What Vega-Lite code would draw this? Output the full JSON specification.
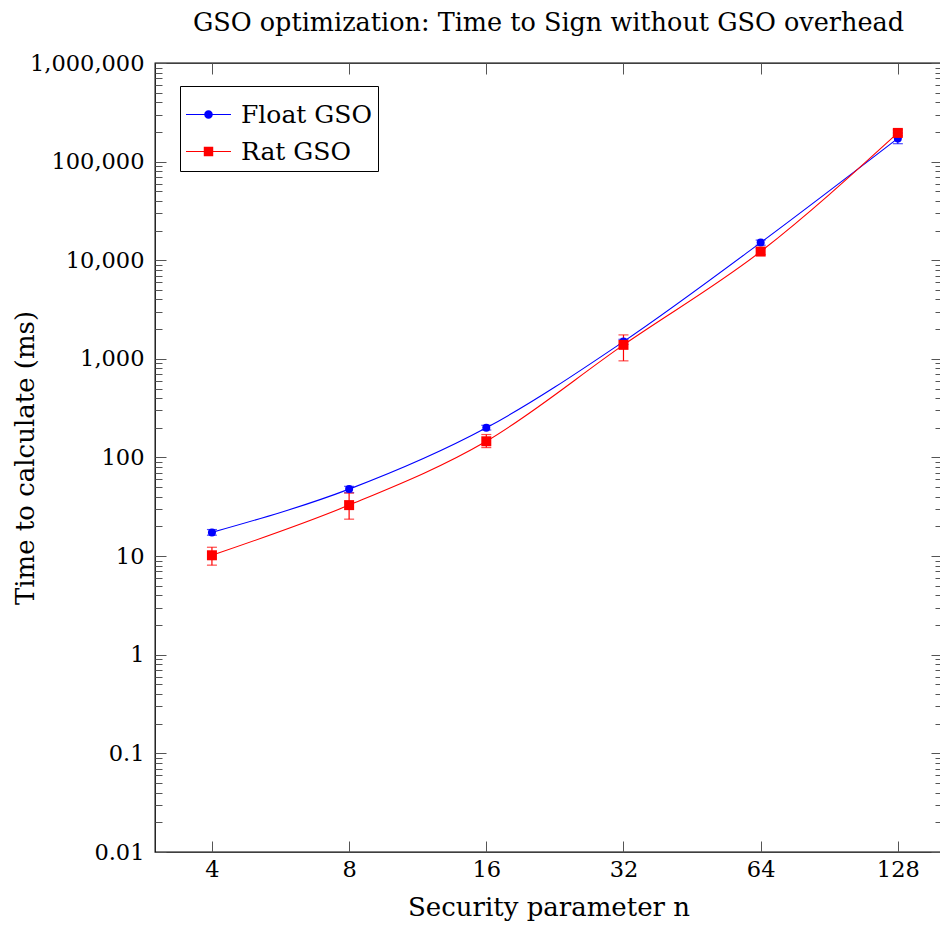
{
  "$schema": "https://vega.github.io/schema/vega-lite/v6.json",
  "width": 787,
  "height": 789,
  "autosize": {"type": "none"},
  "padding": {"left": 155, "top": 63, "right": 0, "bottom": 83},
  "title": {"text": "GSO optimization: Time to Sign without GSO overhead", "font": "DejaVu Serif", "fontSize": 25.5, "fontWeight": "normal", "color": "black", "offset": 16, "anchor": "middle"},
  "config": {"view": {"stroke": "black", "strokeWidth": 1.3}, "font": "DejaVu Serif"},
  "data": {"values": [
    {"n": 4, "series": "Float GSO", "time": 17.4, "lo": 16.3, "hi": 18.6},
    {"n": 8, "series": "Float GSO", "time": 47.8, "lo": 44, "hi": 51},
    {"n": 16, "series": "Float GSO", "time": 200, "lo": 190, "hi": 212},
    {"n": 32, "series": "Float GSO", "time": 1497, "lo": 1400, "hi": 1580},
    {"n": 64, "series": "Float GSO", "time": 15100, "lo": 14200, "hi": 16000},
    {"n": 128, "series": "Float GSO", "time": 172000, "lo": 152000, "hi": 195000},
    {"n": 4, "series": "Rat GSO", "time": 10.2, "lo": 8.1, "hi": 12.3},
    {"n": 8, "series": "Rat GSO", "time": 32.9, "lo": 23.7, "hi": 43.6},
    {"n": 16, "series": "Rat GSO", "time": 146, "lo": 126, "hi": 171},
    {"n": 32, "series": "Rat GSO", "time": 1387, "lo": 955, "hi": 1750},
    {"n": 64, "series": "Rat GSO", "time": 12250, "lo": 11400, "hi": 13200},
    {"n": 128, "series": "Rat GSO", "time": 195500, "lo": 183000, "hi": 210000}
  ]},
  "layer": [
    {
      "mark": {"type": "line", "interpolate": "monotone", "strokeWidth": 1.1},
      "encoding": {
        "x": {"field": "n", "type": "quantitative", "scale": {"type": "log", "base": 2, "domain": [3, 160], "nice": false},
          "axis": {"orient": "bottom", "offset": -11, "values": [4, 8, 16, 32, 64, 128], "tickSize": 11, "tickColor": "#555", "domain": false, "grid": false, "labelPadding": 6, "labelFont": "DejaVu Serif", "labelFontSize": 22.5, "labelColor": "black", "labelFlush": false, "title": "Security parameter n", "titleFont": "DejaVu Serif", "titleFontSize": 26, "titleFontWeight": "normal", "titleColor": "black", "titlePadding": 14}},
        "y": {"field": "time", "type": "quantitative", "scale": {"type": "log", "domain": [0.01, 1000000], "nice": false},
          "axis": {"orient": "left", "offset": -11,
            "values": [0.01,0.02,0.03,0.04,0.05,0.06,0.07,0.08,0.09,0.1,0.2,0.3,0.4,0.5,0.6,0.7,0.8,0.9,1,2,3,4,5,6,7,8,9,10,20,30,40,50,60,70,80,90,100,200,300,400,500,600,700,800,900,1000,2000,3000,4000,5000,6000,7000,8000,9000,10000,20000,30000,40000,50000,60000,70000,80000,90000,100000,200000,300000,400000,500000,600000,700000,800000,900000,1000000],
            "labelExpr": "indexof([0.01,0.1,1,10,100,1000,10000,100000,1000000], datum.value) >= 0 ? format(datum.value, ',') : ''",
            "tickSize": 11,
            "tickDash": {"condition": {"test": "indexof([0.01,0.1,1,10,100,1000,10000,100000,1000000], datum.value) >= 0", "value": [30, 1]}, "value": [0, 4, 7, 30]},
            "tickColor": "#555", "domain": false, "grid": false, "labelPadding": 11, "labelFont": "DejaVu Serif", "labelFontSize": 22.5, "labelColor": "black", "labelFlush": false, "labelOverlap": false,
            "title": "Time to calculate (ms)", "titleFont": "DejaVu Serif", "titleFontSize": 26, "titleFontWeight": "normal", "titleColor": "black", "titleX": -141, "titleY": 394.5, "titleAngle": -90, "titleAlign": "center", "titleBaseline": "middle"}},
        "color": {"field": "series", "type": "nominal", "scale": {"domain": ["Float GSO", "Rat GSO"], "range": ["#0000ff", "#ff0000"]},
          "legend": {"title": null, "orient": "none", "legendX": 25, "legendY": 23, "strokeColor": "black", "fillColor": "white", "padding": 6, "labelFont": "DejaVu Serif", "labelFontSize": 25, "labelColor": "black", "symbolSize": 2025, "rowPadding": 1, "labelOffset": 10, "symbolStrokeWidth": 0,
            "encode": {"symbols": {"update": {
              "shape": {"signal": "datum.value === 'Float GSO' ? 'M-1,-0.025H1V0.025H-1ZM0.19,0A0.19,0.19 0 1,1 -0.19,0A0.19,0.19 0 1,1 0.19,0Z' : 'M-1,-0.025H1V0.025H-1ZM-0.21,-0.21H0.21V0.21H-0.21Z'"},
              "size": {"value": 2025},
              "fill": {"signal": "datum.value === 'Float GSO' ? '#0000ff' : '#ff0000'"},
              "fillOpacity": {"value": 1},
              "strokeWidth": {"value": 0},
              "opacity": {"value": 1}
            }}}}}
      }
    },
    {
      "mark": {"type": "errorbar", "ticks": {"size": 10}, "thickness": 1.2},
      "encoding": {
        "x": {"field": "n", "type": "quantitative", "scale": {"type": "log", "base": 2, "domain": [3, 160], "nice": false}, "axis": null},
        "y": {"field": "lo", "type": "quantitative", "scale": {"type": "log", "domain": [0.01, 1000000], "nice": false}, "axis": null},
        "y2": {"field": "hi"},
        "color": {"field": "series", "type": "nominal", "legend": null}
      }
    },
    {
      "transform": [{"filter": "datum.series === 'Float GSO'"}],
      "mark": {"type": "point", "filled": true, "opacity": 1, "shape": "circle", "size": 64},
      "encoding": {
        "x": {"field": "n", "type": "quantitative", "scale": {"type": "log", "base": 2, "domain": [3, 160], "nice": false}, "axis": null},
        "y": {"field": "time", "type": "quantitative", "scale": {"type": "log", "domain": [0.01, 1000000], "nice": false}, "axis": null},
        "color": {"field": "series", "type": "nominal", "legend": null}
      }
    },
    {
      "transform": [{"filter": "datum.series === 'Rat GSO'"}],
      "mark": {"type": "point", "filled": true, "opacity": 1, "shape": "square", "size": 100},
      "encoding": {
        "x": {"field": "n", "type": "quantitative", "scale": {"type": "log", "base": 2, "domain": [3, 160], "nice": false}, "axis": null},
        "y": {"field": "time", "type": "quantitative", "scale": {"type": "log", "domain": [0.01, 1000000], "nice": false}, "axis": null},
        "color": {"field": "series", "type": "nominal", "legend": null}
      }
    },
    {
      "mark": {"type": "point", "opacity": 0},
      "encoding": {
        "x": {"field": "n", "type": "quantitative", "scale": {"type": "log", "base": 2, "domain": [3, 160], "nice": false},
          "axis": {"orient": "top", "offset": -11, "values": [4, 8, 16, 32, 64, 128], "labels": false, "tickSize": 11, "tickColor": "#555", "domain": false, "grid": false, "title": null}},
        "y": {"field": "time", "type": "quantitative", "scale": {"type": "log", "domain": [0.01, 1000000], "nice": false},
          "axis": {"orient": "right", "offset": -11,
            "values": [0.01,0.02,0.03,0.04,0.05,0.06,0.07,0.08,0.09,0.1,0.2,0.3,0.4,0.5,0.6,0.7,0.8,0.9,1,2,3,4,5,6,7,8,9,10,20,30,40,50,60,70,80,90,100,200,300,400,500,600,700,800,900,1000,2000,3000,4000,5000,6000,7000,8000,9000,10000,20000,30000,40000,50000,60000,70000,80000,90000,100000,200000,300000,400000,500000,600000,700000,800000,900000,1000000],
            "labels": false,
            "tickSize": 11,
            "tickDash": {"condition": {"test": "indexof([0.01,0.1,1,10,100,1000,10000,100000,1000000], datum.value) >= 0", "value": [30, 1]}, "value": [0, 4, 7, 30]},
            "tickColor": "#555", "domain": false, "grid": false, "title": null}}
      }
    }
  ],
  "resolve": {"axis": {"x": "independent", "y": "independent"}}
}
